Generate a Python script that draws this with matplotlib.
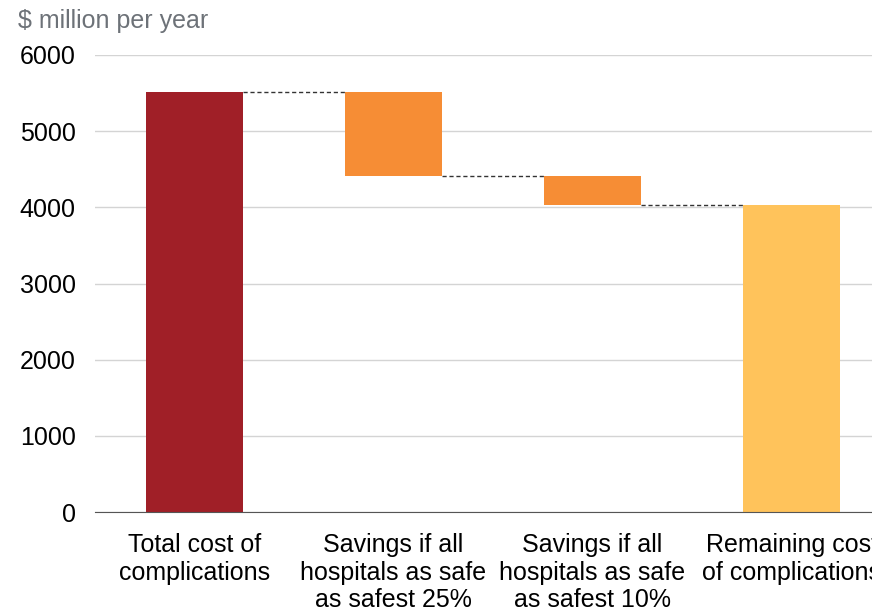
import matplotlib.pyplot as plt

plt.rcParams['font.family'] = ['Liberation Sans', 'DejaVu Sans']

categories = ["Total cost of\ncomplications",
              "Savings if all\nhospitals as safe\nas safest 25%",
              "Savings if all\nhospitals as safe\nas safest 10%",
              "Remaining cost\nof complications"]
tops = [5520, 5520, 4410, 4030]
bottoms = [0, 4410, 4030, 0]
colors = ["#A01F27", "#F68D35", "#F68D35", "#FFC35B"]
yticks = [0, 1000, 2000, 3000, 4000, 5000, 6000]

fig = plt.figure(figsize=(8.72, 6.10), dpi=100)
ax = fig.add_axes([95 / 872, 98 / 610, 796 / 872, 457 / 610])

x = list(range(len(categories)))
heights = [t - b for t, b in zip(tops, bottoms)]
ax.bar(x, heights, bottom=bottoms, width=0.49, color=colors, zorder=3)

# connectors: running total carried to the next bar
for i in range(len(x) - 1):
    level = tops[0] if i == 0 else bottoms[i]
    ax.plot([x[i] + 0.245, x[i + 1] - 0.245], [level, level],
            color="#333333", lw=1, ls=(0, (3, 2)), zorder=4)

ax.set_xlim(-0.5, 3.5)
ax.set_ylim(0, 6000)
ax.set_yticks(yticks)
ax.set_xticks(x)
ax.set_xticklabels(categories, fontsize=18, linespacing=1.2)
ax.tick_params(axis='y', labelsize=18, length=0, pad=14)
ax.tick_params(axis='x', length=0, pad=15)
ax.grid(axis='y', color="#d4d4d4", lw=1, zorder=0)
for s in ["top", "right", "left"]:
    ax.spines[s].set_visible(False)
ax.spines["bottom"].set_color("#555555")
ax.spines["bottom"].set_zorder(5)

fig.text(18 / 872, 1 - 21 / 610, "$ million per year", fontsize=18,
         color="#6d7278", va="center", ha="left")

fig.savefig("out.png", dpi=100)
